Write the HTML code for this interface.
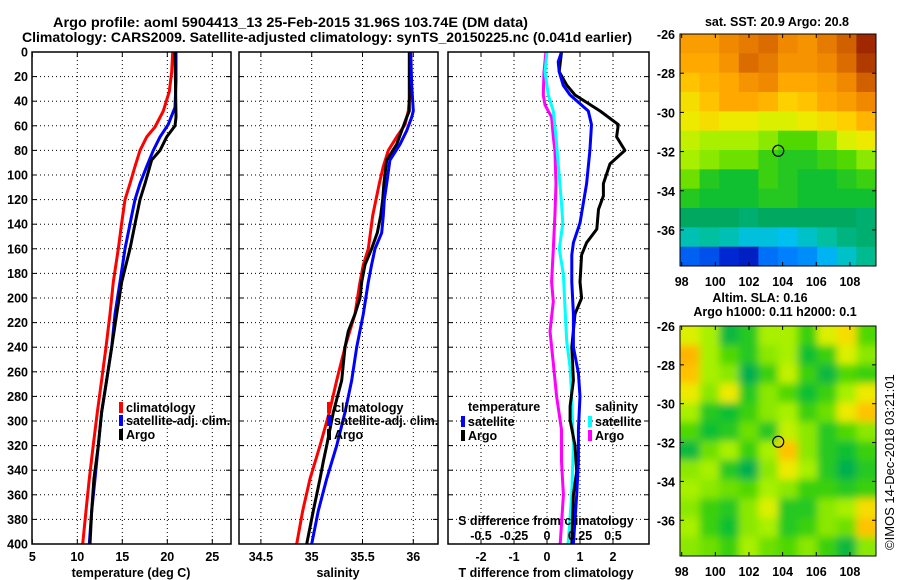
<!DOCTYPE html>
<html><head><meta charset="utf-8">
<style>
html,body{margin:0;padding:0;background:#fff;}
svg{display:block;font-family:"Liberation Sans",sans-serif;}
.b{font-weight:bold;font-size:12.5px;}
</style></head>
<body>
<svg id="fig" width="900" height="580" viewBox="0 0 900 580" xmlns="http://www.w3.org/2000/svg">
<text x="53" y="27" class="b" style="font-size:14px" textLength="475" lengthAdjust="spacingAndGlyphs">Argo profile: aoml 5904413_13 25-Feb-2015 31.96S 103.74E (DM data)</text>
<text x="22" y="42" class="b" style="font-size:14px" textLength="610" lengthAdjust="spacingAndGlyphs">Climatology: CARS2009. Satellite-adjusted climatology: synTS_20150225.nc (0.041d earlier)</text>
<text x="777" y="26" class="b" text-anchor="middle">sat. SST: 20.9 Argo: 20.8</text>
<text x="760" y="302" class="b" text-anchor="middle">Altim. SLA: 0.16</text>
<text x="775" y="316" class="b" text-anchor="middle">Argo h1000: 0.11 h2000: 0.1</text>
<text transform="translate(894,550) rotate(-90)" style="font-size:13px">©IMOS 14-Dec-2018 03:21:01</text>
<g id="plots"></g>
<g id="maps"></g>
</svg>
<script>
// ---- profile data (depth in m) ----
const depthRedT=[0,16,32,48,61,69,80,93,107,120,139,160,187,213,240,267,293,320,347,373,400];
const climT=[20.6,20.49,20.22,19.56,18.63,17.71,16.97,16.41,15.86,15.3,14.93,14.56,14.0,13.63,13.19,12.7,12.22,11.77,11.33,10.97,10.6];
const depthBlueT=[0,24,45,59,69,80,93,107,120,133,160,187,213,240,267,293,320,347,373,400];
const satT=[20.97,20.97,20.86,20.1,19.19,18.44,17.71,16.97,16.41,16.04,15.3,14.74,14.19,13.82,13.26,12.7,12.33,11.97,11.6,11.33];
const depthArgoT=[0,53,60,69,80,88,107,120,133,160,187,213,240,267,293,320,347,373,400];
const argoT=[20.86,20.97,20.86,19.93,19.19,18.26,17.52,16.97,16.6,15.86,14.93,14.38,13.82,13.26,12.7,12.33,11.85,11.6,11.41];

const depthRedS=[0,27,48,59,69,80,93,107,120,133,160,173,187,213,240,267,293,320,347,373,400];
const climS=[35.974,35.974,35.951,35.918,35.837,35.754,35.705,35.665,35.633,35.6,35.557,35.508,35.475,35.426,35.328,35.246,35.173,35.082,34.983,34.911,34.852];
const depthBlueS=[0,27,48,53,64,75,88,107,120,133,147,160,173,187,213,240,267,293,320,347,373,400];
const satS=[35.974,35.984,36.0,35.984,35.935,35.869,35.77,35.738,35.715,35.705,35.689,35.623,35.59,35.557,35.508,35.443,35.394,35.328,35.246,35.148,35.065,35.0];
const depthArgoS=[0,48,53,64,75,88,107,120,133,147,160,173,187,200,213,227,240,267,293,320,333,347,373,400];
const argoS=[35.961,35.961,35.935,35.886,35.837,35.738,35.711,35.699,35.679,35.646,35.59,35.525,35.492,35.475,35.426,35.36,35.328,35.295,35.213,35.148,35.114,35.082,35.016,34.951];

const depthDT=[0,16,27,35,48,59,69,80,91,107,117,128,144,155,165,187,200,213,240,267,288,299,320,341,360,400];
const argoDT=[0.44,0.37,0.6,0.85,1.61,2.16,2.11,2.36,1.91,1.71,1.71,1.56,1.51,1.2,1.05,1.0,1.05,0.85,0.75,0.8,0.7,0.7,0.85,0.9,0.8,0.75];
const depthSatDT=[0,8,16,27,35,48,59,80,107,123,139,155,165,187,213,240,261,280,307,333,360,400];
const satDT=[0.44,0.34,0.37,0.49,0.7,1.25,1.35,1.3,1.2,1.1,1.0,0.8,0.75,0.75,0.8,0.8,0.95,1.0,0.95,0.95,0.9,0.8];
const depthSatDS=[0,16,35,48,69,93,123,139,160,181,208,235,256,280,320,360,400];
const satDS=[0.0,-0.015,0.01,0.048,0.068,0.086,0.11,0.12,0.093,0.124,0.136,0.149,0.174,0.187,0.2,0.187,0.16];
const depthArgoDS=[0,16,35,43,53,69,80,107,133,160,187,203,227,253,280,307,333,360,400];
const argoDS=[-0.008,-0.023,-0.028,-0.015,0.035,0.048,0.06,0.068,0.06,0.048,0.035,0.048,0.023,0.048,0.073,0.11,0.11,0.124,0.1];

const depthTicks=[0,20,40,60,80,100,120,140,160,180,200,220,240,260,280,300,320,340,360,380,400];
const tTicks=[5,10,15,20,25];
const sTicks=[34.5,35,35.5,36];
const dtTicks=[-2,-1,0,1,2];
const dsTicks=[-0.5,-0.25,0,0.25,0.5];
const dsTickLabels=['-0.5','-0.25','0','0.25','0.5'];

// ---- map data ----
const lonTicks=[98,100,102,104,106,108];
const latTicks=[-26,-28,-30,-32,-34,-36];
const sstGrid=[
[84,84,88,90,92,88,86,90,94,100],
[82,82,86,92,90,86,86,88,92,98],
[78,80,82,86,88,82,82,84,88,94],
[74,78,82,82,80,76,78,82,84,88],
[72,74,72,72,70,70,72,74,76,80],
[68,66,66,66,64,60,60,64,70,72],
[66,64,62,62,58,56,56,58,60,64],
[62,56,54,54,58,56,54,54,56,58],
[56,54,54,54,56,56,54,54,54,54],
[48,48,48,46,48,48,48,48,48,46],
[38,40,38,34,34,32,36,40,44,46],
[18,16,10,8,20,22,24,30,36,42]];
const slaGrid=[
[70,66,52,56,66,66,58,70,74,60],
[80,66,60,56,64,66,54,58,70,64],
[78,66,64,50,58,68,58,52,60,58],
[72,64,72,56,64,60,54,58,66,72],
[66,56,54,58,64,66,58,62,72,78],
[60,54,56,62,56,68,64,56,60,64],
[52,62,66,58,66,78,64,56,54,58],
[64,66,56,50,64,72,66,56,50,56],
[66,64,62,60,66,64,58,58,56,58],
[64,58,56,64,70,56,56,64,66,74],
[66,58,54,64,66,56,58,64,62,78],
[64,62,58,66,62,60,64,58,52,64]];
const argoLon=103.74, argoLat=-31.96;

const NS='http://www.w3.org/2000/svg';
function mk(tag,attrs,parent){const e=document.createElementNS(NS,tag);for(const k in attrs)e.setAttribute(k,attrs[k]);parent.appendChild(e);return e;}
const plots=document.getElementById('plots');
const maps=document.getElementById('maps');
const Y0=52, Y1=544;
const yD=d=>Y0+(d/400)*(Y1-Y0);

const panels=[
 {name:'temperature',x0:32,x1:231,f:v=>122.3+(v-15)*9.0,ticks:tTicks,lbl:tTicks.map(String),xlabel:'temperature (deg C)',xlx:131},
 {name:'salinity',x0:239,x1:438,f:v=>311.7+(v-35)*101.6,ticks:sTicks,lbl:sTicks.map(String),xlabel:'salinity',xlx:338},
 {name:'t-difference',x0:448,x1:649,f:v=>547+v*33,ticks:dtTicks,lbl:dtTicks.map(String),xlabel:'T difference from climatology',xlx:546}
];
panels.forEach((p,pi)=>{
 const g=mk('g',{},plots);
 
 
 depthTicks.forEach(d=>{
  if(d>0&&d<400){const l=mk('line',{x1:p.x0,x2:p.x1,y1:yD(d),y2:yD(d),stroke:'#000','stroke-width':1,'stroke-dasharray':'1,3'},g);
   }
  mk('line',{x1:p.x0,x2:p.x0+5,y1:yD(d),y2:yD(d),stroke:'#000'},g);
  mk('line',{x1:p.x1,x2:p.x1-5,y1:yD(d),y2:yD(d),stroke:'#000'},g);
  if(pi===0){const t=mk('text',{x:28,y:yD(d)+4.5,'text-anchor':'end',class:'b'},g);t.textContent=d;
   }
 });
 p.ticks.forEach((v,i)=>{
  const x=p.f(v);
  if(x>p.x0+1&&x<p.x1-1){const l=mk('line',{x1:x,x2:x,y1:Y0,y2:Y1,stroke:'#000','stroke-width':1,'stroke-dasharray':'1,3'},g);
   }
  mk('line',{x1:x,x2:x,y1:Y1,y2:Y1-5,stroke:'#000'},g);
  mk('line',{x1:x,x2:x,y1:Y0,y2:Y0+5,stroke:'#000'},g);
  const t=mk('text',{x:x,y:561,'text-anchor':'middle',class:'b'},g);t.textContent=p.lbl[i];
  
 });
 const xl=mk('text',{x:p.xlx,y:577,'text-anchor':'middle',class:'b'},g);xl.textContent=p.xlabel;
 
 p.g=g;
});
function line(g,xs,ds,f,color,name){
 const pts=xs.map((v,i)=>f(v).toFixed(1)+','+yD(ds[i]).toFixed(1)).join(' ');
 const e=mk('polyline',{points:pts,fill:'none',stroke:color,'stroke-width':3,'stroke-linejoin':'round'},g);
 
 
}
const fT=panels[0].f, fS=panels[1].f, fDT=panels[2].f, fDS=v=>547+v*132;
line(panels[0].g,climT,depthRedT,fT,'#ff0000','climatology-temperature-line');
line(panels[0].g,satT,depthBlueT,fT,'#0000ff','satellite-temperature-line');
line(panels[0].g,argoT,depthArgoT,fT,'#000000','argo-temperature-line');
line(panels[1].g,climS,depthRedS,fS,'#ff0000','climatology-salinity-line');
line(panels[1].g,argoS,depthArgoS,fS,'#000000','argo-salinity-line');
line(panels[1].g,satS,depthBlueS,fS,'#0000ff','satellite-salinity-line');
line(panels[2].g,argoDS,depthArgoDS,fDS,'#ff00ff','argo-s-difference-line');
line(panels[2].g,satDS,depthSatDS,fDS,'#00ffff','satellite-s-difference-line');
line(panels[2].g,argoDT,depthDT,fDT,'#000000','argo-t-difference-line');
line(panels[2].g,satDT,depthSatDT,fDT,'#0000ff','satellite-t-difference-line');
dsTicks.forEach((v,i)=>{const t=mk('text',{x:fDS(v),y:540,'text-anchor':'middle',class:'b'},panels[2].g);t.textContent=dsTickLabels[i];
 });
const st=mk('text',{x:546,y:525,'text-anchor':'middle',class:'b'},panels[2].g);st.textContent='S difference from climatology';

panels.forEach(p=>{const r=mk('rect',{x:p.x0,y:Y0,width:p.x1-p.x0,height:Y1-Y0,fill:'none',stroke:'#000','stroke-width':1.5},p.g);
 });
function leg(g,x,y,color,txt,name){
 const lg=mk('g',{},g);
 
 
 if(color)mk('rect',{x:x-7,y:y-10,width:4,height:11,fill:color},lg);
 const t=mk('text',{x:x,y:y,class:'b'},lg);t.textContent=txt;
}
leg(panels[0].g,126,412,'#ff0000','climatology','legend-climatology');
leg(panels[0].g,126,425,'#0000ff','satellite-adj. clim.','legend-satellite-adj');
leg(panels[0].g,126,439,'#000000','Argo','legend-argo');
leg(panels[1].g,334,412,'#ff0000','climatology','legend-climatology');
leg(panels[1].g,334,425,'#0000ff','satellite-adj. clim.','legend-satellite-adj');
leg(panels[1].g,334,439,'#000000','Argo','legend-argo');
leg(panels[2].g,468,411,null,'temperature','legend-temperature-header');
leg(panels[2].g,468,426,'#0000ff','satellite','legend-t-satellite');
leg(panels[2].g,468,440,'#000000','Argo','legend-t-argo');
leg(panels[2].g,595,411,null,'salinity','legend-salinity-header');
leg(panels[2].g,595,426,'#00ffff','satellite','legend-s-satellite');
leg(panels[2].g,595,440,'#ff00ff','Argo','legend-s-argo');

const stops=[[0,[0,0,140]],[12,[0,48,224]],[22,[0,128,255]],[32,[0,192,240]],[40,[0,192,160]],[48,[0,168,96]],[54,[16,192,48]],[60,[80,216,0]],[66,[168,240,0]],[71,[232,240,0]],[76,[255,208,0]],[82,[255,168,0]],[88,[240,136,0]],[94,[208,96,0]],[100,[160,40,0]]];
function cmap(v){for(let i=1;i<stops.length;i++){if(v<=stops[i][0]){const a=stops[i-1],b=stops[i],t=(v-a[0])/(b[0]-a[0]);
 const c=a[1].map((q,k)=>Math.round(q+(b[1][k]-q)*t));return 'rgb('+c.join(',')+')';}}return 'rgb(160,40,0)';}
const MX0=680,MX1=876,LON0=97.9,LON1=109.55,LAT0=-26,LAT1=-37.84;
const mLon=v=>MX0+(v-LON0)/(LON1-LON0)*(MX1-MX0);
const defs=mk('defs',{},maps);
const flt=mk('filter',{id:'blur',x:'-5%',y:'-5%',width:'110%',height:'110%'},defs);
mk('feGaussianBlur',{stdDeviation:4},flt);
function drawMap(grid,y0,y1,name,blur){
 const mLat=v=>y0+(v-LAT0)/(LAT1-LAT0)*(y1-y0);
 const g=mk('g',{},maps);
 
 
 const cp=mk('clipPath',{id:'cp'+name},defs);mk('rect',{x:MX0,y:y0,width:MX1-MX0,height:y1-y0},cp);
 const cg=mk('g',{'clip-path':'url(#cp'+name+')'},g);
 const ig=mk('g',blur?{filter:'url(#blur)'}:{},cg);
 const R=grid.length,C=grid[0].length,cw=(MX1-MX0)/C,ch=(y1-y0)/R;
 grid.forEach((row,r)=>row.forEach((v,c)=>{
  const pad=blur?15:0;
  const x=MX0+c*cw-(c===0?pad:0), y=y0+r*ch-(r===0?pad:0);
  const w=cw+0.6+(c===0?pad:0)+(c===C-1?pad:0), h=ch+0.6+(r===0?pad:0)+(r===R-1?pad:0);
  const e=mk('rect',{x:x,y:y,width:w,height:h,fill:cmap(v)},ig);
  
  
 }));
 mk('rect',{x:MX0,y:y0,width:MX1-MX0,height:y1-y0,fill:'none',stroke:'#000','stroke-width':1},g);
 lonTicks.forEach(v=>{const x=mLon(v);
  mk('line',{x1:x,x2:x,y1:y0,y2:y0+4,stroke:'#000'},g);mk('line',{x1:x,x2:x,y1:y1,y2:y1-4,stroke:'#000'},g);
  const t=mk('text',{x:x,y:y1+20,'text-anchor':'middle',class:'b'},g);t.textContent=v;
  });
 latTicks.forEach(v=>{const y=mLat(v);
  mk('line',{x1:MX0,x2:MX0+4,y1:y,y2:y,stroke:'#000'},g);mk('line',{x1:MX1,x2:MX1-4,y1:y,y2:y,stroke:'#000'},g);
  const t=mk('text',{x:675,y:y+5,'text-anchor':'end',class:'b'},g);t.textContent=v;
  });
 const m=mk('circle',{cx:mLon(argoLon),cy:mLat(argoLat),r:5.5,fill:'none',stroke:'#000','stroke-width':1.2},g);
 
 
}
drawMap(sstGrid,34,266,'sst-map',false);
drawMap(slaGrid,326,556,'sla-map',true);
</script>
</body></html>
